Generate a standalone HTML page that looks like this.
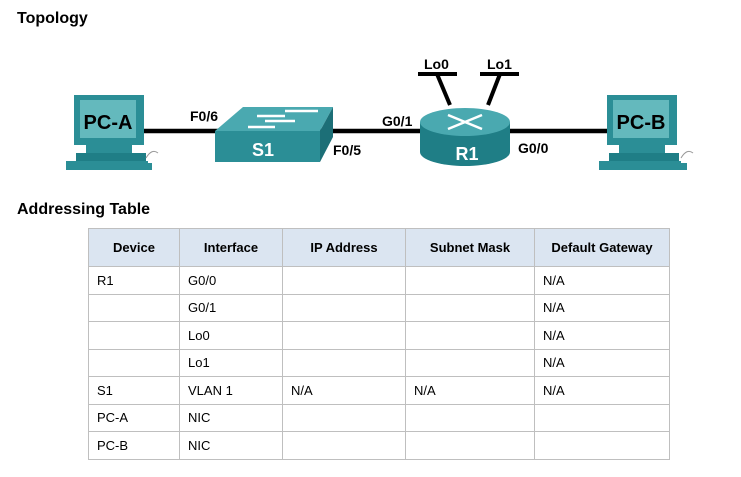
<!DOCTYPE html>
<html><head><style>
body{margin:0;width:741px;height:477px;background:#fff;font-family:"Liberation Sans",Arial,sans-serif;position:relative;overflow:hidden}
.h{position:absolute;left:17px;font-weight:bold;font-size:16px;color:#000}
table{position:absolute;left:88px;top:228px;border-collapse:collapse;font-size:13px}
td,th{border:1px solid #bfbfbf;padding:0 8px;height:26.5px;text-align:left;font-weight:normal}
th{background:#dbe5f1;font-weight:bold;text-align:center;height:37px}
</style></head><body>
<div class="h" style="top:10px">Topology</div>
<div class="h" style="top:201px">Addressing Table</div>
<svg width="741" height="200" style="position:absolute;left:0;top:0" font-family="Liberation Sans,Arial,sans-serif" font-weight="bold">
<defs>
<linearGradient id="t" x1="0" y1="0" x2="1" y2="1"><stop offset="0" stop-color="#3aa0a8"/><stop offset="1" stop-color="#1c7b83"/></linearGradient>
</defs>
<line x1="140" y1="131" x2="615" y2="131" stroke="#000" stroke-width="4.5"/>
<!-- Lo lines -->
<line x1="418" y1="74" x2="457" y2="74" stroke="#000" stroke-width="4"/>
<line x1="480" y1="74" x2="519" y2="74" stroke="#000" stroke-width="4"/>
<line x1="437" y1="74" x2="450" y2="105" stroke="#000" stroke-width="4"/>
<line x1="500" y1="74" x2="488" y2="105" stroke="#000" stroke-width="4"/>
<!-- PC-A -->
<g transform="translate(74,95)">
<rect x="0" y="0" width="70" height="50" fill="#2b8e96"/><rect x="6" y="5" width="56" height="38" fill="#64b9bd"/>
<rect x="12" y="50" width="46" height="8" fill="#2b8e96"/><rect x="2" y="58" width="70" height="8" fill="#1f7e86"/>
<rect x="-8" y="66" width="82" height="9" fill="#2b8e96"/><rect x="70" y="68" width="8" height="7" fill="#2b8e96"/>
<path d="M72 63 q6 -10 12 -5" stroke="#999" fill="none"/>
<text x="34" y="34" font-size="20" text-anchor="middle" fill="#000">PC-A</text></g>
<!-- PC-B -->
<g transform="translate(607,95)">
<rect x="0" y="0" width="70" height="50" fill="#2b8e96"/><rect x="6" y="5" width="56" height="38" fill="#64b9bd"/>
<rect x="12" y="50" width="46" height="8" fill="#2b8e96"/><rect x="2" y="58" width="70" height="8" fill="#1f7e86"/>
<rect x="-8" y="66" width="82" height="9" fill="#2b8e96"/><rect x="72" y="68" width="8" height="7" fill="#2b8e96"/>
<path d="M74 63 q6 -10 12 -5" stroke="#999" fill="none"/>
<text x="34" y="34" font-size="20" text-anchor="middle" fill="#000">PC-B</text></g>
<!-- Switch -->
<polygon points="215,131 243,107 333,107 320,131" fill="#4aa9b0"/>
<rect x="215" y="131" width="105" height="31" fill="#2b8e96"/>
<polygon points="320,131 333,107 333,137 320,162" fill="#1c6f77"/>
<g stroke="#fff" stroke-width="2.5"><line x1="248" y1="127" x2="275" y2="127"/><line x1="265" y1="121" x2="295" y2="121"/><line x1="257" y1="116" x2="285" y2="116"/><line x1="285" y1="111" x2="318" y2="111"/></g>
<text x="263" y="156" font-size="18" fill="#fff" text-anchor="middle">S1</text>
<!-- Router -->
<path d="M420 122 v30 a45 14 0 0 0 90 0 v-30 z" fill="#1f7e86"/>
<ellipse cx="465" cy="122" rx="45" ry="14" fill="#4aa9b0"/>
<g stroke="#fff" stroke-width="2.5"><line x1="448" y1="115" x2="482" y2="129"/><line x1="448" y1="129" x2="482" y2="115"/></g>
<text x="467" y="160" font-size="18" fill="#fff" text-anchor="middle">R1</text>
<g font-size="14" fill="#000">
<text x="190" y="121">F0/6</text><text x="333" y="155">F0/5</text>
<text x="382" y="126">G0/1</text><text x="518" y="153">G0/0</text>
<text x="424" y="69">Lo0</text><text x="487" y="69">Lo1</text></g>
</svg>
<table>
<tr><th style="width:74px">Device</th><th style="width:86px">Interface</th><th style="width:106px">IP Address</th><th style="width:112px">Subnet Mask</th><th style="width:118px">Default Gateway</th></tr>
<tr><td>R1</td><td>G0/0</td><td></td><td></td><td>N/A</td></tr>
<tr><td></td><td>G0/1</td><td></td><td></td><td>N/A</td></tr>
<tr><td></td><td>Lo0</td><td></td><td></td><td>N/A</td></tr>
<tr><td></td><td>Lo1</td><td></td><td></td><td>N/A</td></tr>
<tr><td>S1</td><td>VLAN 1</td><td>N/A</td><td>N/A</td><td>N/A</td></tr>
<tr><td>PC-A</td><td>NIC</td><td></td><td></td><td></td></tr>
<tr><td>PC-B</td><td>NIC</td><td></td><td></td><td></td></tr>
</table>
</body></html>
